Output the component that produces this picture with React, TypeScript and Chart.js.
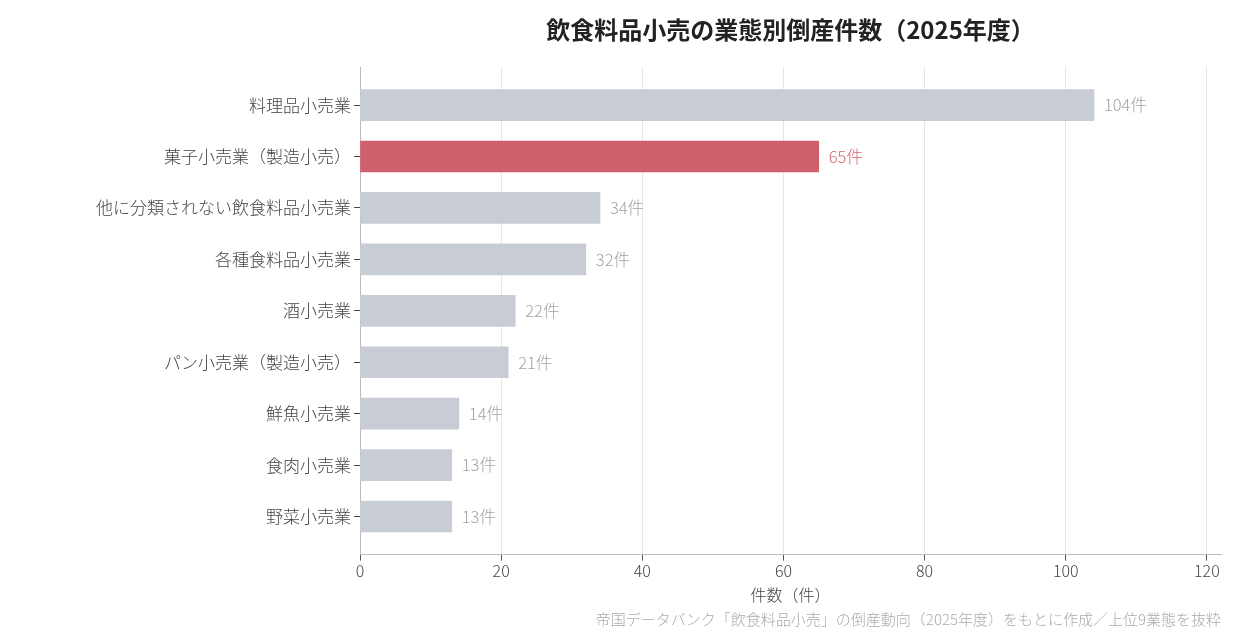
import { useEffect, useRef } from 'react';
import Chart from 'chart.js/auto';

const categories = [
  '料理品小売業',
  '菓子小売業（製造小売）',
  '他に分類されない飲食料品小売業',
  '各種食料品小売業',
  '酒小売業',
  'パン小売業（製造小売）',
  '鮮魚小売業',
  '食肉小売業',
  '野菜小売業',
];
const counts = [104, 65, 34, 32, 22, 21, 14, 13, 13];
const highlightIndex = 1;
const xTicks = [0, 20, 40, 60, 80, 100, 120];

const FONT = "'Noto Sans CJK JP', 'Noto Sans', sans-serif";
const TITLE = '飲食料品小売の業態別倒産件数（2025年度）';
const SOURCE = '帝国データバンク「飲食料品小売」の倒産動向（2025年度）をもとに作成／上位9業態を抜粋';

const GRAY = '#c8ccd5';
const RED = '#d0606c';

const textPlugin = {
  id: 'texts',
  afterDatasetsDraw(chart: any) {
    const { ctx, chartArea } = chart;
    const meta = chart.getDatasetMeta(0);
    ctx.save();
    ctx.font = `300 16.5px ${FONT}`;
    ctx.textBaseline = 'middle';
    ctx.textAlign = 'left';
    meta.data.forEach((bar: any, i: number) => {
      ctx.fillStyle = i === highlightIndex ? '#d4666f' : '#a0a3aa';
      ctx.fillText(`${counts[i]}件`, bar.x + 10, bar.y);
    });
    // title
    ctx.fillStyle = '#222';
    ctx.font = `bold 24px ${FONT}`;
    ctx.textAlign = 'center';
    ctx.fillText(TITLE, (chartArea.left + chartArea.right) / 2, 30);
    // source
    ctx.fillStyle = '#aaaaaa';
    ctx.font = `300 15px ${FONT}`;
    ctx.textAlign = 'right';
    ctx.fillText(SOURCE, chartArea.right, 619);
    ctx.restore();
  },
};

const App = () => {
  const chartRef = useRef<HTMLCanvasElement | null>(null);
  const chartInstance = useRef<Chart | null>(null);

  useEffect(() => {
    document.body.style.margin = '0';
    if (!chartRef.current) return;
    const ctx = chartRef.current.getContext('2d');
    if (!ctx) return;
    if (chartInstance.current) chartInstance.current.destroy();

    chartInstance.current = new Chart(ctx, {
      type: 'bar',
      data: {
        datasets: [
          {
            data: counts.map((v, i) => ({ x: v, y: i })),
            backgroundColor: counts.map((_, i) => (i === highlightIndex ? RED : GRAY)),
            barThickness: 31,
          },
        ],
      },
      options: {
        indexAxis: 'y',
        animation: false,
        responsive: false,
        layout: { padding: { top: 67, right: 19, bottom: 35, left: 0 } },
        plugins: {
          legend: { display: false },
          tooltip: { enabled: false },
        },
        scales: {
          x: {
            type: 'linear',
            min: 0,
            max: 122,
            afterBuildTicks: (axis: any) => {
              axis.ticks = xTicks.map((v) => ({ value: v }));
            },
            grid: { color: '#e6e6e6', tickColor: '#555', tickLength: 6 },
            border: { color: '#bbbbbb' },
            ticks: { font: { family: FONT, size: 16, weight: 300 }, color: '#444', padding: 1, maxRotation: 0 },
            title: {
              display: true,
              text: '件数（件）',
              font: { family: FONT, size: 16, weight: 300 },
              color: '#444',
              padding: { top: 4, bottom: 0 },
            },
          },
          y: {
            type: 'linear',
            min: -0.74,
            max: 8.74,
            reverse: true,
            offset: false,
            afterBuildTicks: (axis: any) => {
              axis.ticks = categories.map((_, i) => ({ value: i }));
            },
            afterFit: (axis: any) => {
              axis.width = 360;
            },
            grid: { drawOnChartArea: false, offset: false, color: '#444', tickLength: 6 },
            border: { color: '#bbbbbb' },
            ticks: {
              font: { family: FONT, size: 17, weight: 300 },
              color: '#444',
              padding: 3,
              autoSkip: false,
              callback: (v: any) => categories[v as number] ?? '',
            },
          },
        },
      },
      plugins: [textPlugin],
    } as any);

    return () => {
      if (chartInstance.current) {
        chartInstance.current.destroy();
        chartInstance.current = null;
      }
    };
  }, []);

  return (
    <div style={{ width: 1240, height: 640 }}>
      <canvas ref={chartRef} width={1240} height={640} style={{ width: 1240, height: 640 }} />
    </div>
  );
};

export default App;
